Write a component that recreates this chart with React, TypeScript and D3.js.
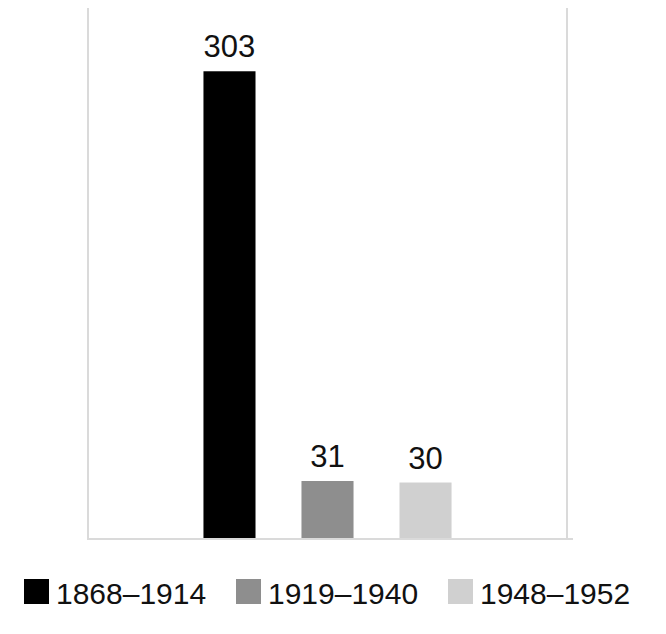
import * as d3 from "d3";
import {useEffect, useRef} from "react";

// Data
const periods = ["1868–1914", "1919–1940", "1948–1952"];
const counts = [303, 31, 30];
const colors = ["#000000", "#8e8e8e", "#d0d0d0"];

const width = 666;
const height = 634;

const BarChart = () => {
    const svgRef = useRef<SVGSVGElement>(null);

    useEffect(() => {
        if (!svgRef.current) return;

        const svg = d3.select(svgRef.current);
        svg.selectAll("*").remove();

        // plot frame
        const left = 88, right = 567, top = 8, bottom = 539;
        const font = "'Liberation Sans', Arial, sans-serif";

        // one category, three series side by side
        const xScale = d3
            .scaleBand<string>()
            .domain(periods)
            .range([left, right])
            .paddingInner(0.469)
            .paddingOuter(1.178);

        const yScale = d3
            .scaleLinear()
            .domain([-7.5, 345])
            .range([bottom, top]);

        const data = periods.map((p, i) => ({period: p, value: counts[i], color: colors[i]}));

        // frame lines
        const axisColor = "#dadada";
        svg.append("line")
            .attr("x1", left).attr("x2", left)
            .attr("y1", top).attr("y2", bottom)
            .attr("stroke", axisColor).attr("stroke-width", 2);
        svg.append("line")
            .attr("x1", right).attr("x2", right)
            .attr("y1", top).attr("y2", bottom)
            .attr("stroke", axisColor).attr("stroke-width", 2);
        svg.append("line")
            .attr("x1", left - 1).attr("x2", right + 6)
            .attr("y1", bottom).attr("y2", bottom)
            .attr("stroke", axisColor).attr("stroke-width", 2);

        // bars
        svg.selectAll(".bar")
            .data(data)
            .enter()
            .append("rect")
            .attr("class", "bar")
            .attr("x", d => xScale(d.period)!)
            .attr("width", xScale.bandwidth())
            .attr("y", d => yScale(d.value))
            .attr("height", d => yScale(-7.5) - yScale(d.value) - 1)
            .attr("fill", d => d.color);

        // value labels
        svg.selectAll(".label")
            .data(data)
            .enter()
            .append("text")
            .attr("class", "label")
            .attr("x", d => xScale(d.period)! + xScale.bandwidth() / 2)
            .attr("y", d => yScale(d.value) - 14)
            .attr("text-anchor", "middle")
            .attr("font-family", font)
            .attr("font-size", 31)
            .attr("fill", "#111")
            .text(d => d.value);

        // legend
        const legendScale = d3
            .scaleBand<string>()
            .domain(periods)
            .range([24, 660]);

        const item = svg.selectAll(".legend")
            .data(data)
            .enter()
            .append("g")
            .attr("class", "legend")
            .attr("transform", d => `translate(${legendScale(d.period)}, 579)`);

        item.append("rect")
            .attr("width", 25)
            .attr("height", 25)
            .attr("fill", d => d.color);

        item.append("text")
            .attr("x", 32)
            .attr("y", 25)
            .attr("font-family", font)
            .attr("font-size", 30)
            .attr("fill", "#111")
            .text(d => d.period);
    }, []);

    return <svg ref={svgRef} width={width} height={height}
                style={{position: "absolute", left: 0, top: 0, background: "#fff"}}/>;
};

export default function App() {
    return <BarChart/>;
}
